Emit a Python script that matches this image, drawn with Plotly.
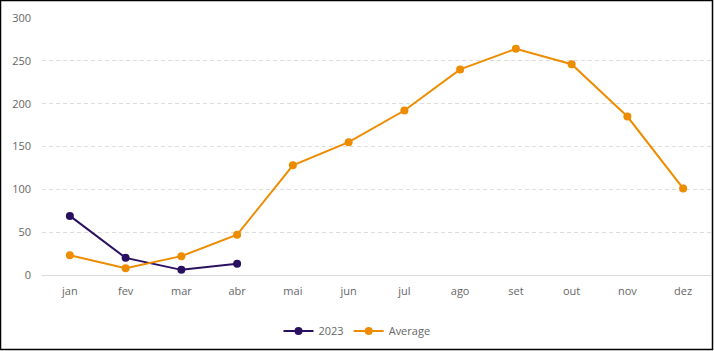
import plotly.graph_objects as go

months = ["jan", "fev", "mar", "abr", "mai", "jun", "jul", "ago", "set", "out", "nov", "dez"]
y2023 = [69, 20, 6, 13]
avg = [23, 8, 22, 47, 128, 155, 192, 240, 264, 246, 185, 101]

c2023 = "#2a1060"
cavg = "#ee8c00"
font = dict(family="Open Sans, Lato, sans-serif", size=11, color="#666666")

fig = go.Figure()
fig.add_trace(go.Scatter(x=months[:len(y2023)], y=y2023, name="2023", mode="lines+markers",
                         line=dict(color=c2023, width=2), marker=dict(size=8, color=c2023)))
fig.add_trace(go.Scatter(x=months, y=avg, name="Average", mode="lines+markers",
                         line=dict(color=cavg, width=2), marker=dict(size=8, color=cavg)))

W, H = 714, 351
ml, mr, mt, mb = 42, 3, 18, 76
pw, ph = W - ml - mr, H - mt - mb
fig.update_layout(
    width=W, height=H,
    margin=dict(l=ml, r=mr, t=mt, b=mb),
    paper_bgcolor="white", plot_bgcolor="white",
    font=font,
    showlegend=True,
    legend=dict(orientation="h", xref="container", yref="container", x=0.5, xanchor="center",
                y=(H - 331) / H, yanchor="middle", font=font, itemwidth=30),
    xaxis=dict(type="category", categoryorder="array", categoryarray=months,
               showgrid=False, showline=True, linecolor="#d9d9d9", linewidth=1,
               ticks="", ticklabelstandoff=6, range=[-0.5, 11.5]),
    yaxis=dict(range=[0, 300], tickvals=[0, 50, 100, 150, 200, 250, 300],
               showgrid=True, gridcolor="#dddddd", griddash="4px,3px", gridwidth=1,
               zeroline=False, showline=False, ticks="", ticklabelstandoff=10),
    shapes=[dict(type="rect", xref="paper", yref="paper",
                 x0=(-ml + 0.5) / pw, x1=1 + (mr - 1.5) / pw,
                 y0=-(mb - 1.5) / ph, y1=1 + (mt - 0.5) / ph,
                 line=dict(color="black", width=1.5), layer="above")],
)
fig.write_html("out.html")
